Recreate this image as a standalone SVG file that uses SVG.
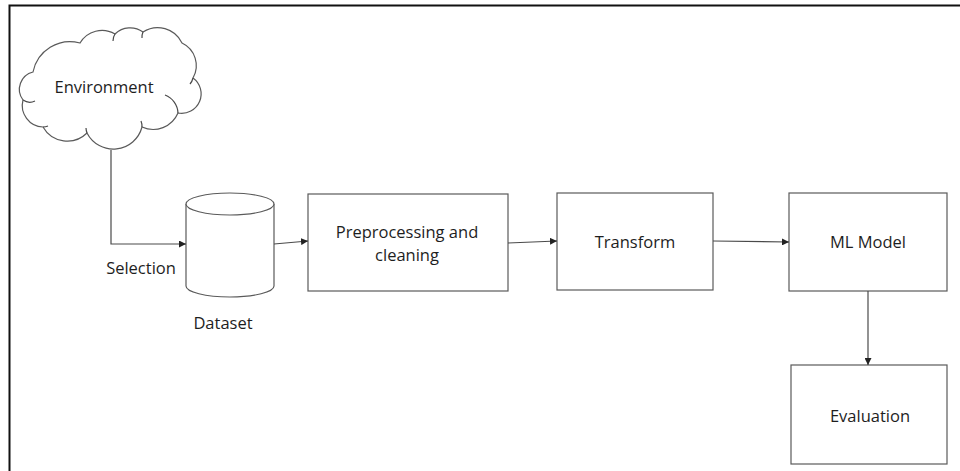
<svg xmlns="http://www.w3.org/2000/svg" width="960" height="471" viewBox="0 0 960 471">
<defs>
<style>
.shape{fill:#fff;stroke:#5a5a5a;stroke-width:1.2}
.conn{fill:none;stroke:#4a4a4a;stroke-width:1.2}
.lbl{font-family:"Open Sans","Noto Sans",sans-serif;font-size:16.5px;fill:#1e1e1e;text-anchor:middle;dominant-baseline:central}
</style>
<marker id="arr" viewBox="0 0 10 10" refX="10" refY="5" markerWidth="7" markerHeight="7" markerUnits="userSpaceOnUse" orient="auto">
<path d="M0,0 L10,5 L0,10 Z" fill="#222"/>
</marker>
</defs>
<rect width="960" height="471" fill="#fff"/>
<path d="M9.5,471 L9.5,5.5 L960,5.5" fill="none" stroke="#111" stroke-width="2"/>

<g id="environment">
<path class="shape" d="M33,72 A37.7,37.7 0 0 1 80,43 A25.5,25.5 0 0 1 115,34 A22,22 0 0 1 143,32 A27,27 0 0 1 182,43 A25,25 0 0 1 193,78 A19.5,19.5 0 0 1 178,113 A27,27 0 0 1 142,127 A29.6,29.6 0 0 1 87,133 A28,28 0 0 1 43,127 A21.6,21.6 0 0 1 23,100 A17.8,17.8 0 0 1 33,72 Z"/>
<path class="conn" d="M115,34 A12,12 0 0 0 113,41 M143,32 A12,12 0 0 0 142,38 M193,78 A14,14 0 0 1 190,84 M178,113 A20,20 0 0 0 165,95 M142,127 A14,14 0 0 0 141,121 M87,133 A16,16 0 0 1 86,128 M43,127 A14,14 0 0 0 48,126 M23,100 A12,12 0 0 0 35,101"/>
<text class="lbl" x="104" y="86">Environment</text>
</g>

<g id="dataset">
<path class="shape" d="M186,204 L186,286 A44,11 0 0 0 274,286 L274,204"/>
<ellipse class="shape" cx="230" cy="204" rx="44" ry="11"/>
<text class="lbl" x="223" y="322">Dataset</text>
</g>

<g id="preprocessing">
<rect class="shape" x="308" y="194" width="200" height="97"/>
<text class="lbl" x="407" y="231">Preprocessing and</text>
<text class="lbl" x="407" y="254">cleaning</text>
</g>

<g id="transform">
<rect class="shape" x="557" y="193" width="156" height="97"/>
<text class="lbl" x="635" y="241">Transform</text>
</g>

<g id="mlmodel">
<rect class="shape" x="789" y="193" width="158" height="98"/>
<text class="lbl" x="868" y="241">ML Model</text>
</g>

<g id="evaluation">
<rect class="shape" x="791" y="365" width="156" height="99"/>
<text class="lbl" x="870" y="415">Evaluation</text>
</g>

<g id="connectors">
<path class="conn" d="M111,150 L111,244 L186,244" marker-end="url(#arr)"/>
<text class="lbl" x="141" y="267">Selection</text>
<path class="conn" d="M274,244 L308,241" marker-end="url(#arr)"/>
<path class="conn" d="M508,243 L557,241" marker-end="url(#arr)"/>
<path class="conn" d="M713,241 L789,242" marker-end="url(#arr)"/>
<path class="conn" d="M868,291 L868,365" marker-end="url(#arr)"/>
</g>
</svg>
